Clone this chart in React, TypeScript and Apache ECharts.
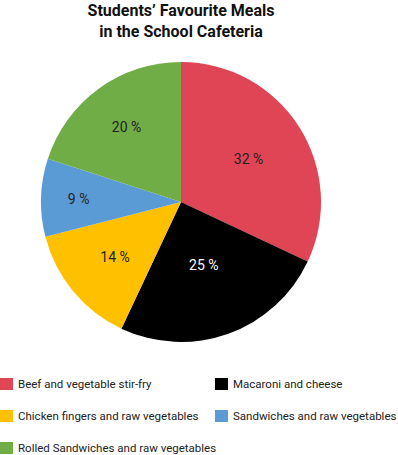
import React, { useEffect, useRef } from 'react';
import * as echarts from 'echarts';

const titleText = 'Students\u2019 Favourite Meals\nin the School Cafeteria';
const categories = [
  'Beef and vegetable stir-fry',
  'Macaroni and cheese',
  'Chicken fingers and raw vegetables',
  'Sandwiches and raw vegetables',
  'Rolled Sandwiches and raw vegetables',
];
const percentages = [32, 25, 14, 9, 20];
const colors = ['#E04556', '#000000', '#FFC000', '#5B9BD5', '#70AD47'];
const labelColors = ['#222222', '#ffffff', '#222222', '#222222', '#222222'];
// label distance from centre, as a fraction of the radius
const labelDist = [0.55, 0.46, 0.59, 0.71, 0.64];
const legendCol1 = [categories[0], categories[2], categories[4]];
const legendCol2 = [categories[1], categories[3]];

const FONT = 'Roboto, "Noto Sans", sans-serif';
const CX = 181;
const CY = 202;
const R = 140;

export default function App() {
  const ref = useRef<HTMLDivElement>(null);
  useEffect(() => {
    if (!ref.current) return;
    const chart = echarts.init(ref.current, null, { renderer: 'svg' });
    const total = percentages.reduce((a, b) => a + b, 0);
    const mids: number[] = [];
    let cum = 0;
    percentages.forEach((v) => {
      mids.push(((90 - ((cum + v / 2) / total) * 360) * Math.PI) / 180);
      cum += v;
    });
    const legendCommon = {
      orient: 'vertical' as const,
      icon: 'rect',
      itemWidth: 13,
      itemHeight: 12,
      itemGap: 20,
      padding: 0,
      selectedMode: false,
      textStyle: { fontFamily: FONT, fontSize: 11.5, color: '#222', lineHeight: 12 },
    };
    chart.setOption({
      animation: false,
      graphic: [
        {
          type: 'text',
          x: CX,
          y: 0,
          style: {
            text: titleText,
            textAlign: 'center',
            textVerticalAlign: 'top',
            font: `bold 16px ${FONT}`,
            lineHeight: 21,
            fill: '#111',
          },
        },
      ],
      legend: [
        { ...legendCommon, left: 0, top: 378, data: legendCol1 },
        { ...legendCommon, left: 215, top: 378, data: legendCol2 },
      ],
      series: [
        {
          type: 'pie',
          center: [CX, CY],
          radius: [0, R],
          startAngle: 90,
          clockwise: true,
          itemStyle: { borderWidth: 0 },
          emphasis: { disabled: true },
          label: {
            show: true,
            position: 'inside',
            formatter: '{c} %',
            fontFamily: FONT,
            fontSize: 14,
          },
          labelLine: { show: false },
          labelLayout: (params: any) => {
            const i = params.dataIndex;
            const shift = (labelDist[i] - 0.5) * R;
            return { dx: shift * Math.cos(mids[i]), dy: -shift * Math.sin(mids[i]) };
          },
          data: categories.map((name, i) => ({
            name,
            value: percentages[i],
            itemStyle: { color: colors[i] },
            label: { color: labelColors[i] },
          })),
        },
      ],
    });
    return () => chart.dispose();
  }, []);
  return (
    <div
      ref={ref}
      style={{ position: 'fixed', left: 0, top: 0, width: 398, height: 455, background: '#fff' }}
    />
  );
}
